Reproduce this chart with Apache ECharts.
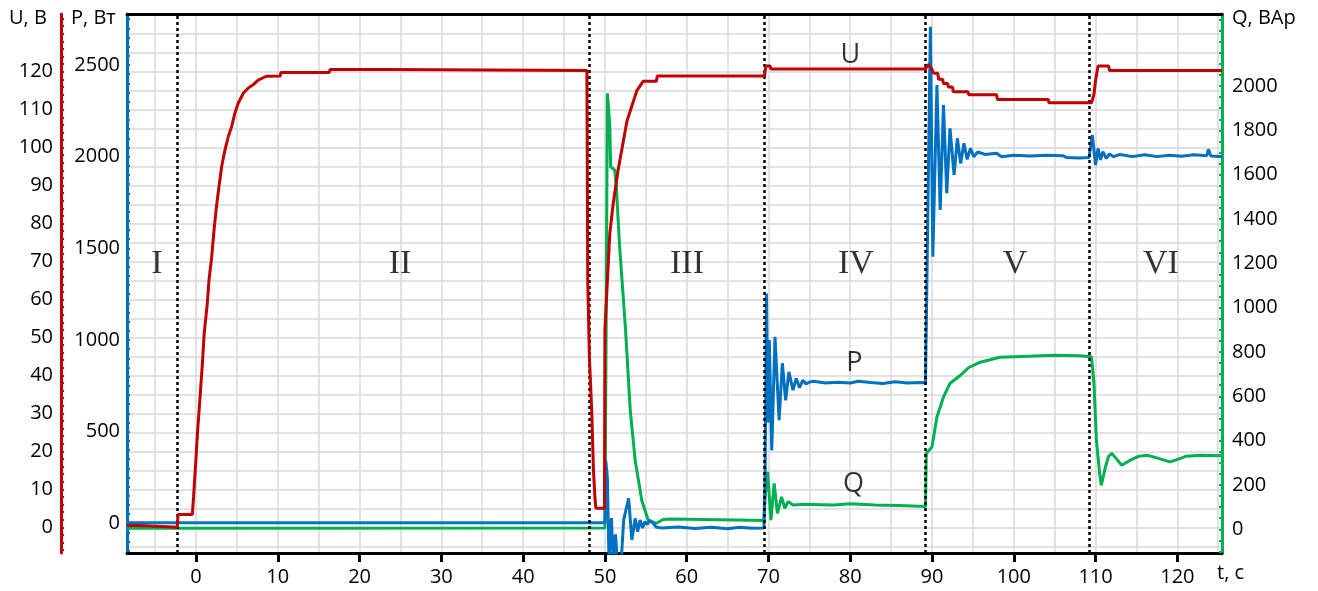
<!DOCTYPE html>
<html>
<head>
<meta charset="utf-8">
<script src="https://cdn.jsdelivr.net/npm/echarts@6/dist/echarts.min.js"></script>
<style>
html,body{margin:0;padding:0;background:#fff}
#chart{width:1318px;height:591px}
</style>
</head>
<body>
<div id="chart"></div>
<script>
// [t, c ; value]
var uPts = [[-8.44,0.5],[-6.8,0.5],[-6.7,0],[-2.3,0],[-2.2,3.4],[-0.45,3.4],[-0.3,8],[-0.04,16.9],[0.2,25.6],[0.5,34.4],
  [0.78,43.2],[1.0,51.1],[1.38,59],[1.59,65.2],[1.92,71.3],[2.24,79.2],[2.53,85],[2.81,89.8],[3.14,95.1],[3.55,99.5],
  [3.96,103],[4.36,105.6],[4.77,109.2],[5.18,111.8],[5.8,114.4],[6.4,115.7],[7.0,116.6],[7.6,117.8],[8.6,118.8],[10.3,118.9],
  [10.4,119.8],[16.3,119.8],[16.4,120.6],[23.2,120.6],[23.3,120.3],[47.8,120.3],[47.9,65],[48.1,45],[48.4,30],[48.6,15],
  [48.8,7.2],[48.9,5],[49.95,5],[50.0,52],[50.6,77.5],[51.0,85],[51.6,94],[52.2,101],[52.7,107],[53.3,111],[53.9,115],
  [54.7,117.5],[56.3,117.5],[56.4,118.9],[69.5,118.9],[69.7,121.5],[70.2,121.5],[70.3,120.7],[89.2,120.7],[89.5,121.9],
  [89.9,121],[90.2,119.6],[90.7,119.6],[90.8,118],[91.3,118],[91.4,116.9],[91.9,116.9],[92.0,116],[92.5,116],[92.6,114.7],
  [94.4,114.7],[94.5,113.9],[97.9,113.9],[98.0,112.7],[104.2,112.7],[104.3,111.8],[109.5,111.8],[109.8,114],[110.0,117.8],
  [110.3,121.5],[111.6,121.5],[111.7,120.3],[125.46,120.3]];

var pPts = [[-8.44,3],[50.0,3],[50.1,344],[50.3,250],[50.5,-200],[50.8,29],[51.0,-200],[51.3,-60],[51.5,-200],[52.0,-200],
  [52.3,20],[52.9,136],[53.3,-91],[53.7,27],[54.0,-46],[54.3,18],[54.6,-26],[54.9,9],[55.2,-7],[55.5,16],[55.9,0],[56.3,-22],
  [57,-25],[59,-20],[61,-28],[63,-22],[65,-30],[66.5,-22],[68,-27],[69.45,-25],[69.6,300],[69.75,1254],[69.95,550],[70.1,1000],
  [70.4,398],[70.8,1017],[71.3,562],[71.7,873],[72.1,671],[72.5,826],[73.0,726],[73.4,790],[73.8,740],[74.2,780],[74.6,760],
  [75.0,770],[75.5,775],[77,765],[78.5,770],[80,765],[81,775],[82.5,768],[84,762],[85.5,772],[87,765],[88.5,768],[89.2,766],
  [89.4,1400],[89.8,2709],[90.1,1454],[90.6,2391],[91.0,1709],[91.4,2282],[91.8,1800],[92.2,2154],[92.7,1900],[93.1,2100],
  [93.5,1963],[93.9,2073],[94.3,1985],[94.7,2045],[95.1,2000],[95.6,2025],[96.5,2012],[97.9,2018],[98.5,1999],[100,2008],
  [102,2003],[104,2008],[106,2005],[106.5,1995],[108,1993],[109.2,1995],[109.6,2118],[110.0,1954],[110.3,2045],[110.6,1982],
  [110.9,2027],[111.3,1991],[111.7,2015],[112.2,2000],[113,2012],[114.5,2000],[116,2010],[117.5,2000],[119,2008],[120.5,2002],
  [122,2010],[123.6,2005],[123.8,2040],[124.1,2003],[125.46,2000]];

var qPts = [[-8.44,5],[50.0,6],[50.15,900],[50.3,1967],[50.45,1900],[50.6,1816],[50.7,1636],[51.2,1620],[51.4,1545],[51.8,1275],
  [52.5,913],[53.1,537],[53.7,311],[54.5,131],[55.3,41],[56.3,27],[57.1,44],[58,46],[62,44],[66,42],[69.45,40],[69.6,150],
  [69.9,259],[70.3,41],[70.7,207],[71.1,72],[71.6,146],[72.0,95],[72.4,125],[73.0,110],[73.9,112],[75,112],[78,110],[80,115],
  [83,110],[86,107],[89.2,103],[89.3,342],[90.0,372],[90.6,507],[91.4,597],[92.2,658],[93.5,696],[94.5,730],[95.9,754],
  [98.3,776],[101,780],[105,785],[108,783],[109.5,778],[109.8,658],[110.1,402],[110.5,252],[110.7,199],[111.2,280],[111.6,330],
  [112.0,342],[112.5,320],[113.2,289],[114.2,311],[115.3,330],[116.3,334],[117.5,322],[119.1,304],[120.2,318],[121.1,330],
  [122.8,334],[125.46,332]];

var boundaryT = [-2.32, 48.06, 69.46, 89.14, 109.23];
var zoneNames = ['I', 'II', 'III', 'IV', 'V', 'VI'];
var zoneT = [-4.77, 24.94, 60.04, 80.7, 100.15, 118.0];
var zoneU = 69.3;
var curveNames = ['U', 'P', 'Q'];
var curveT = [80.0, 80.5, 80.4];
var curveU = [124.4, 43.3, 11.4];

var xLabels = [0, 10, 20, 30, 40, 50, 60, 70, 80, 90, 100, 110, 120];
var uLabels = [0, 10, 20, 30, 40, 50, 60, 70, 80, 90, 100, 110, 120];
var pLabels = [0, 500, 1000, 1500, 2000, 2500];
var qLabels = [0, 200, 400, 600, 800, 1000, 1200, 1400, 1600, 1800, 2000];

function steps(a, b, s) {
  var r = [];
  for (var v = a; v <= b + 1e-9; v += s) r.push(Math.round(v * 1000) / 1000);
  return r;
}
var gridT = steps(-5, 125, 5);
var gridU = steps(-5, 135, 5);
var uTicks = steps(-6, 134, 2);
var pTicks = steps(-150, 2750, 50);
var qTicks = steps(-100, 2300, 50);

var RED = '#c00000', BLUE = '#0070c0', GREEN = '#00b050';
var FONT = 'Open Sans';
var plain = function (v) { return String(v); };
var lbl = {color: '#000', fontSize: 20, fontFamily: FONT, formatter: plain};

var myChart = echarts.init(document.getElementById('chart'));
var option = {
  animation: false,
  backgroundColor: '#fff',
  grid: {left: 127, right: 96, top: 14, bottom: 38},
  xAxis: [
    {
      type: 'value', min: -8.44, max: 125.46, position: 'bottom',
      axisLine: {show: true, onZero: false, lineStyle: {color: '#000', width: 3}},
      axisTick: {show: true, inside: false, length: 9, customValues: xLabels, lineStyle: {color: '#000', width: 3}},
      axisLabel: Object.assign({margin: 14, customValues: xLabels}, lbl),
      splitLine: {show: false}
    },
    {
      type: 'value', min: -8.44, max: 125.46, position: 'top',
      axisLine: {show: true, onZero: false, lineStyle: {color: '#000', width: 3}},
      axisTick: {show: false, customValues: gridT},
      axisLabel: {show: false},
      splitLine: {show: true, lineStyle: {color: '#d9d9d9', width: 1.5}}
    }
  ],
  yAxis: [
    {
      type: 'value', min: -6.77, max: 135.2, position: 'left', offset: 66,
      axisLine: {show: true, onZero: false, lineStyle: {color: RED, width: 3}},
      axisTick: {show: true, inside: true, length: 3, customValues: uTicks, lineStyle: {color: RED, width: 2}},
      axisLabel: Object.assign({margin: 8, customValues: uLabels}, lbl),
      splitLine: {show: false}
    },
    {
      type: 'value', min: -162, max: 2778, position: 'left', offset: 0,
      axisLine: {show: true, onZero: false, lineStyle: {color: BLUE, width: 3}},
      axisTick: {show: true, inside: true, length: 3, customValues: pTicks, lineStyle: {color: BLUE, width: 2}},
      axisLabel: Object.assign({margin: 7, customValues: pLabels}, lbl),
      splitLine: {show: false}
    },
    {
      type: 'value', min: -107, max: 2325, position: 'right', offset: 0,
      axisLine: {show: true, onZero: false, lineStyle: {color: GREEN, width: 3}},
      axisTick: {show: true, inside: true, length: 3, customValues: qTicks, lineStyle: {color: GREEN, width: 2}},
      axisLabel: Object.assign({margin: 10, customValues: qLabels}, lbl),
      splitLine: {show: false}
    },
    {
      type: 'value', min: -6.77, max: 135.2, position: 'left', offset: 0,
      axisLine: {show: false},
      axisTick: {show: false, customValues: gridU},
      axisLabel: {show: false},
      splitLine: {show: true, lineStyle: {color: '#d9d9d9', width: 1.5}}
    }
  ],
  graphic: [
    {type: 'text', left: 9, top: 8, style: {text: 'U, В', font: '20px "Open Sans"', fill: '#000'}},
    {type: 'text', left: 71, top: 8, style: {text: 'P, Вт', font: '20px "Open Sans"', fill: '#000'}},
    {type: 'text', left: 1232, top: 8, style: {text: 'Q, ВАр', font: '20px "Open Sans"', fill: '#000'}},
    {type: 'text', left: 1217, top: 563, style: {text: 't, с', font: '20px "Open Sans"', fill: '#000'}}
  ],
  series: [
    {
      name: 'Q', type: 'line', xAxisIndex: 0, yAxisIndex: 2, data: qPts,
      showSymbol: false, symbol: 'none', lineStyle: {color: GREEN, width: 3}, z: 3
    },
    {
      name: 'P', type: 'line', xAxisIndex: 0, yAxisIndex: 1, data: pPts,
      showSymbol: false, symbol: 'none', lineStyle: {color: BLUE, width: 3}, z: 4
    },
    {
      name: 'U', type: 'line', xAxisIndex: 0, yAxisIndex: 0, data: uPts,
      showSymbol: false, symbol: 'none', lineStyle: {color: RED, width: 3}, z: 5,
      markLine: {
        silent: true, symbol: ['none', 'none'], label: {show: false},
        lineStyle: {color: '#000', width: 2.5, type: [3, 3]},
        data: boundaryT.map(function (t) { return {xAxis: t}; })
      }
    },
    {
      type: 'scatter', xAxisIndex: 0, yAxisIndex: 0, symbolSize: 0, silent: true, z: 6,
      data: zoneNames.map(function (n, i) { return {name: n, value: [zoneT[i], zoneU]}; }),
      label: {show: true, position: 'inside', formatter: '{b}', color: '#000',
        fontFamily: 'Liberation Serif', fontSize: 34}
    },
    {
      type: 'scatter', xAxisIndex: 0, yAxisIndex: 0, symbolSize: 0, silent: true, z: 6,
      data: curveNames.map(function (n, i) { return {name: n, value: [curveT[i], curveU[i]]}; }),
      label: {show: true, position: 'inside', formatter: '{b}', color: '#000',
        fontFamily: FONT, fontSize: 27}
    }
  ]
};
myChart.setOption(option);
</script>
</body>
</html>
